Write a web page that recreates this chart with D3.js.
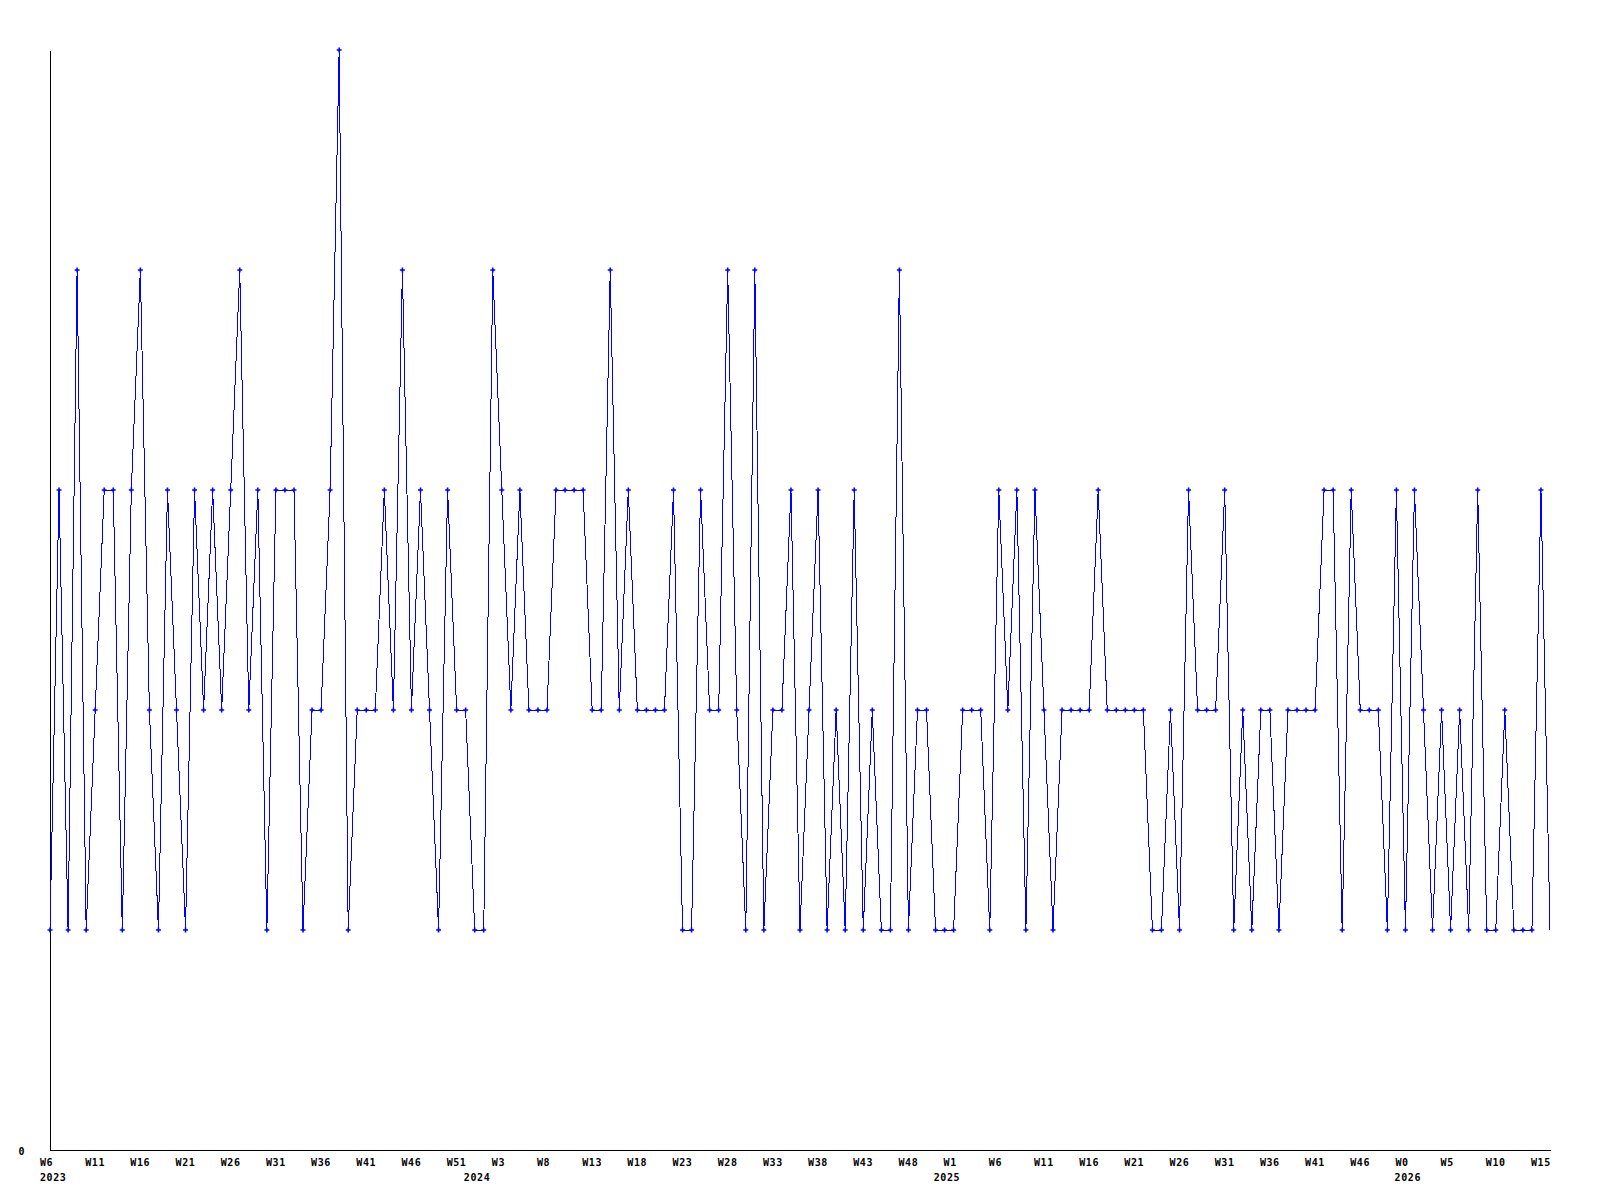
<!DOCTYPE html>
<html><head><meta charset="utf-8">
<script src="https://cdn.jsdelivr.net/npm/d3@7"></script>
<style>body{margin:0;background:#fff}</style>
</head><body><svg id="c" width="1600" height="1200"></svg>
<script>
// weekly values, one per week starting W6 2023
const values = [
  1,3,1,4,1,2,3,3,1,3, 4,2,1,3,2,1,3,2,3,2,
  3,4,2,3,1,3,3,3,1,2, 2,3,5,1,2,2,2,3,2,4,
  2,3,2,1,3,2,2,1,1,4, 3,2,3,2,2,2,3,3,3,3,
  2,2,4,2,3,2,2,2,2,3, 1,1,3,2,2,4,2,1,4,1,
  2,2,3,1,2,3,1,2,1,3, 1,2,1,1,4,1,2,2,1,1,
  1,2,2,2,1,3,2,3,1,3, 2,1,2,2,2,2,3,2,2,2,
  2,2,1,1,2,1,3,2,2,2, 3,1,2,1,2,2,1,2,2,2,
  2,3,3,1,3,2,2,2,1,3, 1,3,2,1,2,1,2,1,3,1,
  1,2,1,1,1,3,1
];
// x tick labels, one every 5 weeks
const tickLabels = [
  "W6","W11","W16","W21","W26","W31","W36","W41","W46","W51",
  "W3","W8","W13","W18","W23","W28","W33","W38","W43","W48",
  "W1","W6","W11","W16","W21","W26","W31","W36","W41","W46",
  "W0","W5","W10","W15"
];
const tickStep = 5;
// year labels and where (in weeks from start) each year begins
const yearLabels = ["2023","2024","2025","2026"];
const yearStarts = [0, 46.9, 98.9, 149.9];
const yTicks = [0];

const svg = d3.select("#c");
const x = d3.scaleLinear().domain([0, values.length - 1]).range([50, 1550]);
const y = d3.scaleLinear().domain([0, 5]).range([1150, 50]);
const font = "'DejaVu Sans Mono', monospace";
const styleText = sel => sel
  .attr("font-family", font).attr("font-weight", "bold").attr("font-size", 10)
  .attr("letter-spacing", 0.6).attr("fill", "#000");

// axes
const xAxis = svg.append("g").attr("transform", "translate(0,1150)")
  .call(d3.axisBottom(x)
    .tickValues(tickLabels.map((_, i) => i * tickStep))
    .tickFormat((d, i) => tickLabels[i])
    .tickSize(0).tickSizeOuter(0));
xAxis.select(".domain").attr("stroke", "#000").attr("shape-rendering", "crispEdges");
xAxis.selectAll("text")
  .attr("text-anchor", "start").attr("dx", -10.5).attr("dy", null).attr("y", 16)
  .call(styleText);

const yAxis = svg.append("g").attr("transform", "translate(50,0)")
  .call(d3.axisLeft(y).tickValues(yTicks).tickFormat(d3.format("d")).tickSize(0).tickSizeOuter(0).tickPadding(25));
yAxis.select(".domain").attr("stroke", "#000").attr("shape-rendering", "crispEdges");
yAxis.selectAll("text").attr("dy", 4).call(styleText);

// year labels
svg.append("g").selectAll("text").data(yearLabels).join("text")
  .attr("x", (d, i) => x(yearStarts[i]) - 10)
  .attr("y", 1181)
  .call(styleText)
  .text(d => d);

// line
const line = d3.line().x((d, i) => x(i)).y(d => y(d));
svg.append("path").datum(values)
  .attr("d", line).attr("fill", "none").attr("stroke", "#0000ff").attr("stroke-width", 1)
  .attr("shape-rendering", "crispEdges");

// plus markers (reference shows none on the final point)
svg.append("g").selectAll("path").data(values.slice(0, -1)).join("path")
  .attr("transform", (d, i) => `translate(${x(i)},${y(d)})`)
  .attr("d", "M-2.5,0H2.5M0,-2.5V2.5")
  .attr("stroke", "#0000ff").attr("stroke-width", 1.6).attr("fill", "none");
</script>
</body></html>
